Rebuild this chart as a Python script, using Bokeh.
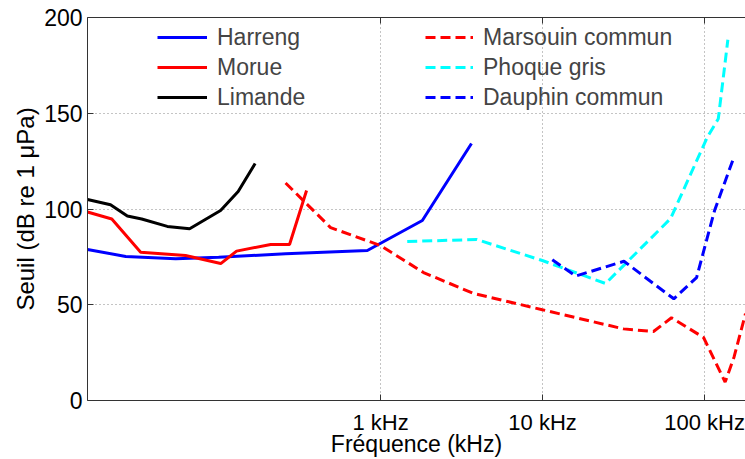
from bokeh.plotting import figure
from bokeh.models import LogAxis, FixedTicker, Legend, LegendItem, Range1d
from bokeh.embed import file_html
from bokeh.resources import INLINE

# ---- data (frequency in kHz, threshold in dB re 1 uPa) ----
harreng_f = [0.0155, 0.0267, 0.0543, 0.1, 0.259, 0.828, 1.81, 3.64]
harreng_db = [78.9, 75.2, 74.0, 74.8, 76.6, 78.3, 94.0, 134.2]

morue_f = [0.0155, 0.0219, 0.033, 0.0625, 0.103, 0.129, 0.2095, 0.274, 0.349]
morue_db = [98.4, 94.8, 77.4, 75.7, 71.5, 78.0, 81.5, 81.5, 109.7]

limande_f = [0.0155, 0.0215, 0.0273, 0.0335, 0.0482, 0.0662, 0.1028, 0.132, 0.168]
limande_db = [105.0, 102.2, 96.3, 94.8, 90.9, 89.7, 99.2, 109.1, 123.8]

marsouin_f = [0.259, 0.491, 1.0, 1.842, 3.75, 9.96, 31.6, 48.4, 62.5, 98.6, 134, 152, 179]
marsouin_db = [113.6, 90.3, 80.9, 66.8, 55.9, 47.4, 37.4, 36.0, 43.2, 32.9, 9.6, 22.6, 45.3]

phoque_f = [1.46, 3.91, 9.96, 24.5, 61.7, 104, 121.6, 139.3]
phoque_db = [83.0, 84.1, 73.1, 61.1, 95.0, 137.5, 147.1, 188.4]

dauphin_f = [11.48, 16.0, 31.8, 64.6, 89.3, 115.3, 151.7]
dauphin_db = [73.5, 65.0, 72.7, 53.1, 64.2, 99.2, 127.0]

x_ticks = [1, 10, 100]
x_tick_labels = ["1 kHz", "10 kHz", "100 kHz"]
y_ticks = [0, 50, 100, 150, 200]
x_title = "Fréquence (kHz)"
y_title = "Seuil (dB re 1 μPa)"

FONT = "Liberation Sans"
FS = "23px"
AXC = "#333333"

p = figure(width=745, height=459, x_axis_type="log",
           x_range=Range1d(0.0155, 179), y_range=Range1d(0, 200),
           output_backend="svg", toolbar_location=None,
           min_border_left=87, min_border_right=0,
           min_border_top=17, min_border_bottom=59)

p.outline_line_color = None
p.background_fill_color = "white"

# axes
xa = p.xaxis[0]
xa.ticker = FixedTicker(ticks=x_ticks)
xa.major_label_overrides = {t: l for t, l in zip(x_ticks, x_tick_labels)}
ya = p.yaxis[0]
ya.ticker = FixedTicker(ticks=y_ticks)
for ax in (xa, ya):
    ax.major_label_text_font = FONT
    ax.major_label_text_font_size = FS
    ax.major_label_text_color = "black"
    ax.axis_label_text_font = FONT
    ax.axis_label_text_font_size = FS
    ax.axis_label_text_font_style = "normal"
    ax.axis_label_text_color = "black"
    ax.axis_line_color = AXC
    ax.major_tick_line_color = AXC
    ax.major_tick_in = 6
    ax.major_tick_out = 0
    ax.minor_tick_line_color = None
xa.major_label_text_font_size = "22px"
xa.axis_label = x_title
xa.major_label_standoff = 9
xa.axis_label_standoff = -7
ya.axis_label = y_title
ya.axis_label_text_font_size = "24px"
ya.major_label_standoff = 5
ya.axis_label_standoff = 2

top = LogAxis(ticker=FixedTicker(ticks=x_ticks), major_label_text_font_size="1px",
              major_label_text_alpha=0,
              axis_line_color=AXC, major_tick_line_color=AXC,
              major_tick_in=6, major_tick_out=0, minor_tick_line_color=None,
              major_label_standoff=0)
p.add_layout(top, "above")

# grid
for g in (p.xgrid[0], p.ygrid[0]):
    g.grid_line_color = "#888888"
    g.grid_line_dash = "1 3"
    g.grid_line_width = 1
p.xgrid[0].ticker = FixedTicker(ticks=x_ticks)
p.ygrid[0].ticker = FixedTicker(ticks=y_ticks)

LW = 3
DASH = "10 5"
r_h = p.line(harreng_f, harreng_db, line_color="#0000ff", line_width=LW)
r_m = p.line(morue_f, morue_db, line_color="#ff0000", line_width=LW)
r_l = p.line(limande_f, limande_db, line_color="#000000", line_width=LW)
r_ma = p.line(marsouin_f, marsouin_db, line_color="#ff0000", line_width=LW, line_dash=DASH)
r_p = p.line(phoque_f, phoque_db, line_color="#00ffff", line_width=LW, line_dash=DASH)
r_d = p.line(dauphin_f, dauphin_db, line_color="#0000ff", line_width=LW, line_dash=DASH)


def make_legend(items, loc, gw):
    lg = Legend(items=items, location=loc, orientation="vertical",
                glyph_width=gw, glyph_height=30, label_height=30, spacing=0,
                padding=0, margin=0, label_standoff=10,
                label_text_font=FONT, label_text_font_size=FS,
                border_line_color=None, background_fill_alpha=0)
    p.add_layout(lg, "center")


make_legend([LegendItem(label="Harreng", renderers=[r_h]),
             LegendItem(label="Morue", renderers=[r_m]),
             LegendItem(label="Limande", renderers=[r_l])], (70, 288), 50)
make_legend([LegendItem(label="Marsouin commun", renderers=[r_ma]),
             LegendItem(label="Phoque gris", renderers=[r_p]),
             LegendItem(label="Dauphin commun", renderers=[r_d])], (338, 288), 48)

open("out.html", "w").write(file_html(p, INLINE))
